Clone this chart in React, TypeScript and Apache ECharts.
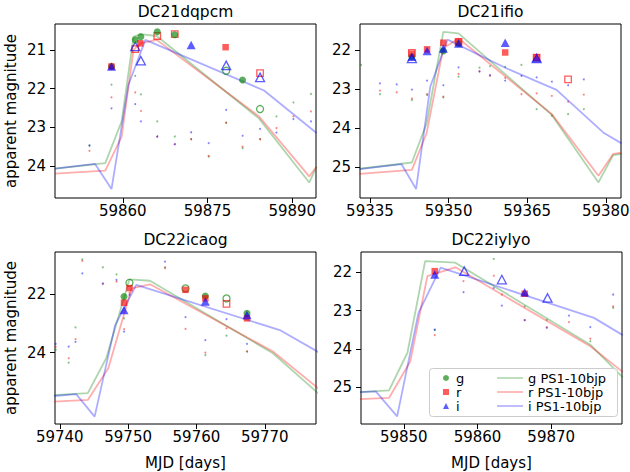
import React, { useEffect, useRef } from "react";
import * as echarts from "echarts";

const FONT = "DejaVu Sans";

// ---------- axes ----------
const panelTitles = ["DC21dqpcm", "DC21ifio", "DC22icaog", "DC22iylyo"];
const xMin = [59848.0, 59333.1, 59739.3, 59844.2];
const xMax = [59894.2, 59382.9, 59777.5, 59879.6];
const yMin = [20.33, 21.33, 20.57, 21.47];
const yMax = [24.83, 25.79, 26.43, 25.96];
const xTickValues = [
  [59860, 59875, 59890],
  [59335, 59350, 59365, 59380],
  [59740, 59750, 59760, 59770],
  [59850, 59860, 59870],
];
const yTickValues = [
  [21, 22, 23, 24],
  [22, 23, 24, 25],
  [22, 24],
  [22, 23, 24, 25],
];

// ---------- DC21dqpcm ----------
const dqpcm_gTemplate = [[59848, 24.07], [59856.9, 23.93], [59859.8, 22.85], [59861.9, 20.66], [59863.1, 20.59], [59866.0, 20.64], [59884.1, 22.77], [59893.0, 24.43], [59894.3, 24.02]];
const dqpcm_rTemplate = [[59848, 24.2], [59856.9, 24.12], [59859.8, 23.24], [59861.9, 21.0], [59863.1, 20.83], [59866.0, 20.74], [59884.1, 22.72], [59893.0, 24.27], [59894.3, 24.02]];
const dqpcm_iTemplate = [[59848, 24.07], [59855.1, 23.95], [59858.0, 24.6], [59861.0, 21.9], [59864.0, 20.74], [59885.0, 22.05], [59894.3, 23.15]];
const dqpcm_gFilled = [[59858.0, 21.43], [59862.2, 20.74], [59863.2, 20.66], [59866.1, 20.53], [59869.2, 20.61], [59881.2, 21.78]];
const dqpcm_rFilled = [[59858.0, 21.43], [59863.1, 20.83], [59878.2, 20.93]];
const dqpcm_iFilled = [[59858.0, 21.43], [59872.1, 20.87]];
const dqpcm_gOpen = [[59878.3, 21.54], [59884.3, 22.53]];
const dqpcm_rOpen = [[59862.2, 20.98], [59866.1, 20.64], [59869.2, 20.59], [59884.3, 21.6]];
const dqpcm_iOpen = [[59862.2, 20.91], [59863.2, 21.28], [59878.3, 21.4], [59884.3, 21.71]];
const dqpcm_gDots = [[59854.1, 23.46], [59858.0, 21.9], [59862.2, 21.67], [59863.2, 22.15], [59866.1, 22.85], [59869.2, 23.24], [59872.1, 23.31], [59875.2, 23.76], [59878.3, 22.89], [59881.2, 23.54], [59884.3, 23.31], [59887.2, 22.72], [59890.2, 22.36], [59893.3, 22.14]];
const dqpcm_rDots = [[59854.1, 23.61], [59858.0, 22.23], [59862.2, 22.1], [59863.2, 22.58], [59866.1, 23.24], [59869.2, 23.44], [59872.1, 23.31], [59875.2, 23.74], [59878.3, 22.88], [59881.2, 23.5], [59884.3, 23.31], [59887.2, 23.02], [59890.2, 22.72], [59893.3, 22.59]];
const dqpcm_iDots = [[59854.1, 23.48], [59858.0, 22.51], [59862.2, 22.4], [59863.2, 22.85], [59866.1, 23.24], [59869.2, 23.44], [59872.1, 23.13], [59875.2, 23.41], [59878.3, 22.55], [59881.2, 23.22], [59884.3, 23.04], [59887.2, 23.14], [59890.2, 22.79], [59893.3, 22.85]];

// ---------- DC21ifio ----------
const ifio_gTemplate = [[59333, 25.04], [59343.0, 24.88], [59345.8, 23.88], [59349.0, 21.53], [59351.9, 21.57], [59369.7, 23.66], [59378.6, 25.39], [59381.4, 24.69], [59383, 24.66]];
const ifio_rTemplate = [[59333, 25.17], [59343.0, 25.07], [59345.8, 24.13], [59349.0, 21.95], [59351.9, 21.7], [59369.7, 23.64], [59378.6, 25.22], [59381.4, 24.66], [59383, 24.63]];
const ifio_iTemplate = [[59333, 25.05], [59341.0, 24.92], [59343.8, 25.56], [59346.5, 22.94], [59349.8, 21.73], [59361.1, 22.47], [59370.6, 23.02], [59379.5, 24.11], [59383, 24.39]];
const ifio_gFilled = [[59343.0, 22.17], [59349.0, 22.02], [59351.9, 21.83]];
const ifio_rFilled = [[59343.0, 22.09], [59345.9, 21.98], [59349.0, 21.81], [59351.9, 21.79], [59360.8, 22.06], [59366.8, 22.19]];
const ifio_iFilled = [[59343.0, 22.17], [59345.9, 22.02], [59349.0, 21.96], [59351.9, 21.83], [59360.8, 21.81], [59366.8, 22.2]];
const ifio_gOpen: number[][] = [];
const ifio_rOpen = [[59343.0, 22.07], [59351.9, 21.79], [59366.8, 22.19], [59372.8, 22.75]];
const ifio_iOpen = [[59343.0, 22.21], [59366.8, 22.21]];
const ifio_gDots = [[59333.3, 22.38], [59336.9, 23.13], [59343.0, 23.28], [59345.9, 23.15], [59349.0, 23.21], [59351.9, 22.68], [59355.9, 22.45], [59357.9, 22.41], [59360.8, 22.43], [59363.9, 22.38], [59366.8, 23.51], [59369.7, 23.68], [59372.8, 23.64], [59375.8, 23.51]];
const ifio_rDots = [[59336.9, 23.04], [59340.1, 23.08], [59343.0, 23.24], [59345.9, 23.13], [59349.0, 23.19], [59351.9, 22.61], [59355.9, 22.54], [59357.9, 22.66], [59360.8, 22.71], [59363.9, 23.13], [59366.8, 23.11], [59369.7, 23.17], [59372.8, 23.32], [59375.8, 23.14]];
const ifio_iDots = [[59336.9, 22.85], [59340.1, 22.88], [59343.0, 23.01], [59345.9, 22.78], [59349.0, 22.9], [59351.9, 22.44], [59355.9, 22.55], [59357.9, 22.64], [59360.8, 22.78], [59363.9, 22.66], [59366.8, 22.7], [59369.7, 22.81], [59372.8, 22.9], [59375.8, 22.75]];

// ---------- DC22icaog ----------
const icaog_gTemplate = [[59739, 25.45], [59744.1, 25.38], [59746.8, 24.19], [59750.2, 21.5], [59753.2, 21.55], [59771.2, 24.02], [59778, 25.42]];
const icaog_rTemplate = [[59739, 25.67], [59744.1, 25.61], [59747.1, 24.53], [59750.5, 21.81], [59753.2, 21.67], [59771.2, 23.96], [59778, 25.25]];
const icaog_iTemplate = [[59739, 25.48], [59742.4, 25.41], [59745.1, 26.18], [59748.1, 23.06], [59751.2, 21.69], [59772.2, 23.23], [59778, 24.0]];
const icaog_gFilled = [[59749.4, 22.09], [59761.3, 22.07], [59767.4, 22.66]];
const icaog_rFilled = [[59749.4, 22.3], [59750.2, 21.8], [59758.4, 21.86], [59761.3, 22.15], [59767.4, 22.83]];
const icaog_iFilled = [[59749.4, 22.55], [59761.3, 22.26], [59767.4, 22.72]];
const icaog_gOpen = [[59750.2, 21.62], [59758.4, 21.81], [59764.4, 22.15]];
const icaog_rOpen = [[59764.4, 22.34]];
const icaog_iOpen: number[][] = [];
const icaog_gDots = [[59739.4, 23.9], [59741.3, 24.34], [59742.3, 23.14], [59743.3, 20.82], [59746.3, 21.09], [59748.3, 21.33], [59749.4, 22.83], [59755.4, 21.09], [59761.3, 24.08], [59764.4, 23.42], [59767.4, 23.96]];
const icaog_rDots = [[59739.4, 23.8], [59741.3, 24.19], [59742.3, 23.54], [59743.3, 20.87], [59746.3, 21.66], [59748.3, 21.58], [59749.4, 23.2], [59750.2, 21.96], [59755.4, 21.12], [59758.4, 23.19], [59761.3, 24.0], [59764.4, 23.17], [59767.4, 23.96]];
const icaog_iDots = [[59739.4, 23.7], [59741.3, 23.79], [59742.3, 23.63], [59743.3, 21.3], [59746.3, 21.64], [59748.3, 21.52], [59749.4, 23.28], [59750.2, 22.03], [59755.4, 20.9], [59758.4, 22.79], [59761.3, 23.57], [59764.4, 22.86], [59767.4, 23.7]];

// ---------- DC22iylyo ----------
const iylyo_gTemplate = [[59844, 25.13], [59848.0, 25.08], [59850.5, 24.1], [59852.9, 21.71], [59857.0, 21.75], [59875.3, 23.89], [59879.7, 24.74]];
const iylyo_rTemplate = [[59844, 25.31], [59848.0, 25.28], [59850.9, 24.32], [59853.2, 22.1], [59857.0, 21.87], [59875.3, 23.93], [59879.7, 24.6]];
const iylyo_iTemplate = [[59844, 25.13], [59846.2, 25.11], [59849.1, 25.76], [59852.0, 23.06], [59855.0, 21.88], [59875.8, 23.19], [59879.7, 23.64]];
const iylyo_gFilled: number[][] = [];
const iylyo_rFilled = [[59854.2, 21.97], [59866.4, 22.56]];
const iylyo_iFilled = [[59854.2, 22.06], [59866.4, 22.52]];
const iylyo_gOpen: number[][] = [];
const iylyo_rOpen: number[][] = [];
const iylyo_iOpen = [[59858.2, 21.97], [59863.3, 22.19], [59869.5, 22.67]];
const iylyo_gDots = [[59854.2, 23.5], [59862.2, 21.65], [59866.4, 22.89], [59869.4, 23.24], [59875.3, 23.8], [59878.4, 22.93]];
const iylyo_rDots = [[59854.2, 23.64], [59858.1, 22.23], [59862.2, 22.09], [59863.3, 22.58], [59866.4, 23.25], [59869.4, 23.43], [59872.4, 23.3], [59875.3, 23.73], [59878.4, 22.89]];
const iylyo_iDots = [[59854.2, 23.5], [59858.1, 22.52], [59862.2, 22.41], [59863.3, 22.87], [59866.4, 23.25], [59869.4, 23.45], [59872.4, 23.13], [59875.3, 23.43], [59878.4, 22.58]];

const panelData = [
  { tpl: [dqpcm_gTemplate, dqpcm_rTemplate, dqpcm_iTemplate], filled: [dqpcm_gFilled, dqpcm_rFilled, dqpcm_iFilled], open: [dqpcm_gOpen, dqpcm_rOpen, dqpcm_iOpen], dots: [dqpcm_gDots, dqpcm_rDots, dqpcm_iDots] },
  { tpl: [ifio_gTemplate, ifio_rTemplate, ifio_iTemplate], filled: [ifio_gFilled, ifio_rFilled, ifio_iFilled], open: [ifio_gOpen, ifio_rOpen, ifio_iOpen], dots: [ifio_gDots, ifio_rDots, ifio_iDots] },
  { tpl: [icaog_gTemplate, icaog_rTemplate, icaog_iTemplate], filled: [icaog_gFilled, icaog_rFilled, icaog_iFilled], open: [icaog_gOpen, icaog_rOpen, icaog_iOpen], dots: [icaog_gDots, icaog_rDots, icaog_iDots] },
  { tpl: [iylyo_gTemplate, iylyo_rTemplate, iylyo_iTemplate], filled: [iylyo_gFilled, iylyo_rFilled, iylyo_iFilled], open: [iylyo_gOpen, iylyo_rOpen, iylyo_iOpen], dots: [iylyo_gDots, iylyo_rDots, iylyo_iDots] },
];

const bands = ["g", "r", "i"];
const templateNames = ["g PS1-10bjp", "r PS1-10bjp", "i PS1-10bjp"];

// ---------- styles / layout ----------
const RGB = ["0,128,0", "255,0,0", "0,0,255"];
const SYMBOLS = ["circle", "rect", "triangle"];
const SIZES: any[] = [7, 6.5, [9, 8.5]];
const LEGEND_ICONS = ["circle", "path://M0,0H10V10H0Z", "path://M5,0L10,10H0Z"];
const GRIDS = [
  { left: 55, top: 24, width: 261, height: 174 },
  { left: 360, top: 24, width: 261, height: 174 },
  { left: 55, top: 252, width: 261, height: 172 },
  { left: 361, top: 252, width: 261, height: 172 },
];

function buildOption() {
  const series: any[] = [];
  panelData.forEach((pd, p) => {
    bands.forEach((b, k) => {
      series.push({
        type: "scatter", name: b + " forced", xAxisIndex: p, yAxisIndex: p,
        data: pd.dots[k], symbol: "circle", symbolSize: 2, silent: true, z: 1,
        itemStyle: { color: `rgba(${RGB[k]},0.6)` },
      });
    });
    bands.forEach((b, k) => {
      series.push({
        type: "line", name: templateNames[k], xAxisIndex: p, yAxisIndex: p,
        data: pd.tpl[k], symbol: "none", showSymbol: false, silent: true, z: 2,
        lineStyle: { color: `rgba(${RGB[k]},0.32)`, width: 1.8 },
        itemStyle: { color: `rgba(${RGB[k]},0.32)` },
      });
    });
    bands.forEach((b, k) => {
      series.push({
        type: "scatter", name: b + " open", xAxisIndex: p, yAxisIndex: p,
        data: pd.open[k], symbol: SYMBOLS[k], symbolSize: SIZES[k], silent: true, z: 3,
        itemStyle: { color: "rgba(255,255,255,0)", borderColor: `rgba(${RGB[k]},0.8)`, borderWidth: 1.3 },
      });
    });
    bands.forEach((b, k) => {
      series.push({
        type: "scatter", name: b, xAxisIndex: p, yAxisIndex: p,
        data: pd.filled[k], symbol: SYMBOLS[k], symbolSize: SIZES[k], silent: true, z: 4,
        itemStyle: { color: `rgba(${RGB[k]},0.8)` },
      });
    });
  });

  const labelStyle = { color: "#000", fontSize: 15, fontFamily: FONT };
  const nameStyle = { color: "#000", fontSize: 15, fontFamily: FONT };
  const xAxis = GRIDS.map((_, p) => ({
    gridIndex: p, type: "value", min: xMin[p], max: xMax[p],
    axisLine: { show: false },
    axisTick: { show: true, inside: false, length: 5, lineStyle: { color: "#000", width: 1 }, customValues: xTickValues[p] },
    axisLabel: { ...labelStyle, margin: 5, customValues: xTickValues[p], formatter: (v: number) => String(v) },
    splitLine: { show: false },
    name: p >= 2 ? "MJD [days]" : "",
    nameLocation: "middle", nameGap: 31,
    nameTextStyle: nameStyle,
  }));
  const yAxis = GRIDS.map((_, p) => ({
    gridIndex: p, type: "value", inverse: true, min: yMin[p], max: yMax[p],
    axisLine: { show: false },
    axisTick: { show: true, inside: false, length: 5, lineStyle: { color: "#000", width: 1 }, customValues: yTickValues[p] },
    axisLabel: { ...labelStyle, margin: 9, customValues: yTickValues[p], formatter: (v: number) => String(v) },
    splitLine: { show: false },
    name: p % 2 === 0 ? "apparent magnitude" : "",
    nameLocation: "middle", nameGap: 37,
    nameTextStyle: nameStyle,
  }));
  const grid = GRIDS.map((g) => ({
    ...g, show: true, borderColor: "#000", borderWidth: 1, backgroundColor: "rgba(0,0,0,0)",
    containLabel: false, outerBoundsMode: "none",
  }));
  const titleCenters = [[185.5, 12], [490.5, 12], [185.5, 240], [491, 240]];
  const graphic = [
    ...panelTitles.map((t, p) => ({
      type: "text", x: titleCenters[p][0], y: titleCenters[p][1], z: 30,
      style: { text: t, fill: "#000", font: `15.5px "${FONT}"`, textAlign: "center", textVerticalAlign: "middle", align: "center", verticalAlign: "middle" },
    })),
    {
      type: "rect", z: 10,
      shape: { x: 429.5, y: 368.5, width: 188, height: 48, r: 3 },
      style: { fill: "rgba(255,255,255,0.8)", stroke: "#cccccc", lineWidth: 1 },
    },
  ];
  const legendCommon = {
    orient: "vertical", padding: 0, itemGap: 0, selectedMode: false, z: 20, symbolKeepAspect: true,
    textStyle: { color: "#000", fontSize: 13, fontFamily: FONT, lineHeight: 14 },
  };
  const legend = [
    {
      ...legendCommon, left: 443, top: 371, itemWidth: 10, itemHeight: 6,
      data: bands.map((b, k) => ({ name: b, icon: LEGEND_ICONS[k] })),
    },
    {
      ...legendCommon, left: 497, top: 371, itemWidth: 26, itemHeight: 1.6,
      data: templateNames.map((n) => ({ name: n, icon: "rect" })),
    },
  ];
  return {
    animation: false,
    textStyle: { fontFamily: FONT },
    grid, xAxis, yAxis, series, graphic, legend,
  };
}

export default function App() {
  const ref = useRef<HTMLDivElement>(null);
  useEffect(() => {
    const chart = echarts.init(ref.current as HTMLDivElement, null, { renderer: "svg" });
    chart.setOption(buildOption() as any);
    return () => chart.dispose();
  }, []);
  return <div ref={ref} style={{ position: "absolute", left: 0, top: 0, width: 630, height: 472, background: "#fff" }} />;
}
